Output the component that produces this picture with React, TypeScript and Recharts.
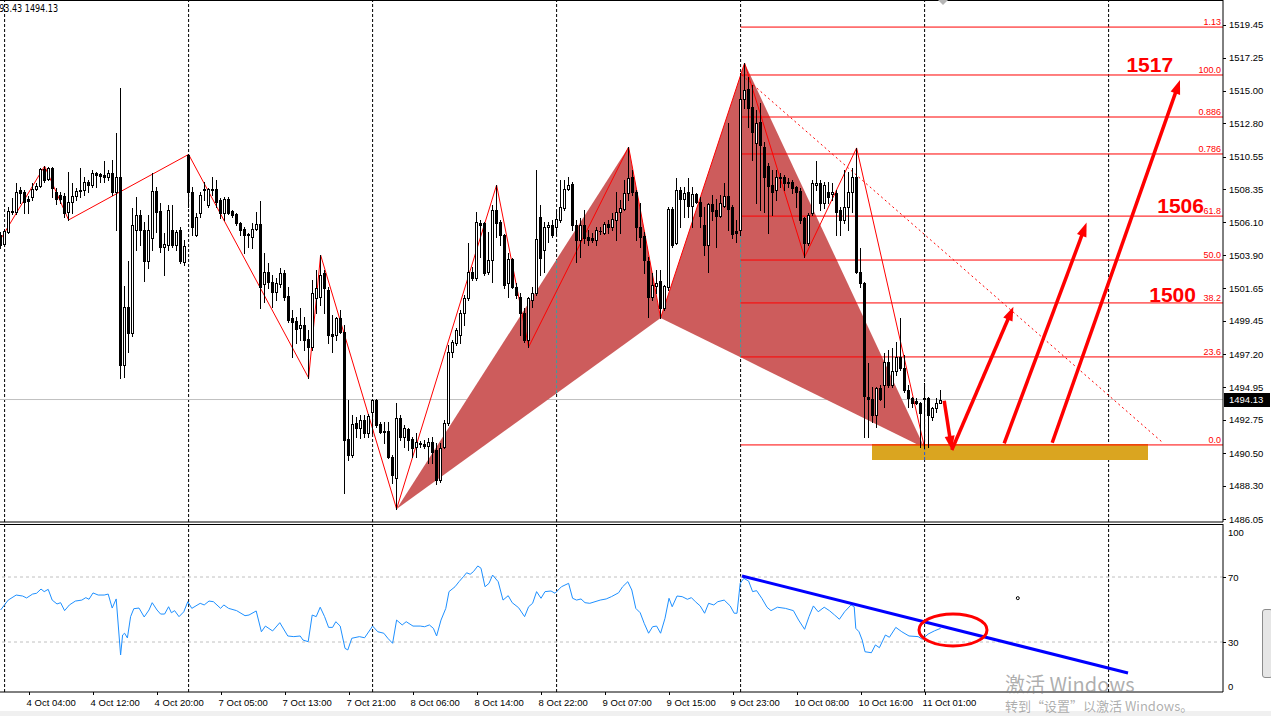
import React from 'react';
import {
  ComposedChart,
  Bar,
  Line,
  Area,
  XAxis,
  YAxis,
  ReferenceLine,
  ReferenceArea,
  ReferenceDot,
} from 'recharts';

const FONT = '"Liberation Sans", Arial, sans-serif';
const RED = '#ff0000';

// visible window of the two panels: bar index / price / RSI
const X_MIN = -0.15;
const X_MAX = 305.6;
const P_MIN = 1485.85;
const P_MAX = 1521.14;
const R_MIN = -0.77;
const R_MAX = 102.62;

// XAUUSD M30 candles, [open, high, low, close]
const ohlc: number[][] = [
  [1505.25, 1505.45, 1504.38, 1504.58], [1504.65, 1505.66, 1504.51, 1505.52], [1505.45, 1507.15, 1505.39, 1506.87],
  [1506.8, 1507.76, 1506.67, 1506.87], [1506.8, 1508.77, 1506.67, 1508.16], [1508.3, 1508.5, 1507.42, 1508.1],
  [1508.16, 1508.3, 1506.74, 1507.48], [1507.69, 1507.89, 1506.74, 1507.55], [1507.83, 1508.77, 1507.62, 1508.36],
  [1508.36, 1508.77, 1508.3, 1508.56], [1508.56, 1509.78, 1508.5, 1509.71], [1509.71, 1509.91, 1508.83, 1508.97],
  [1509.04, 1509.85, 1508.97, 1509.78], [1509.78, 1509.85, 1507.83, 1508.43], [1508.16, 1508.43, 1507.35, 1507.69],
  [1507.96, 1508.16, 1507.42, 1507.69], [1507.89, 1508.1, 1506.47, 1506.74], [1506.8, 1509.51, 1506.27, 1507.48],
  [1507.48, 1508.77, 1506.74, 1507.89], [1507.89, 1508.43, 1507.62, 1508.23], [1508.3, 1509.78, 1507.83, 1508.23],
  [1508.3, 1509.18, 1507.96, 1508.83], [1508.83, 1508.97, 1508.16, 1508.63], [1508.63, 1509.65, 1508.5, 1509.45],
  [1509.45, 1509.51, 1508.5, 1509.31], [1509.38, 1509.45, 1508.83, 1509.24], [1509.31, 1510.25, 1508.83, 1509.18],
  [1509.18, 1509.65, 1508.97, 1509.45], [1509.45, 1510.32, 1507.96, 1508.16], [1508.16, 1512.15, 1505.59, 1509.18],
  [1509.18, 1515.19, 1495.59, 1496.46], [1496.46, 1501.8, 1495.66, 1500.39], [1500.39, 1503.49, 1497.34, 1498.63],
  [1498.63, 1507.08, 1498.42, 1505.93], [1505.59, 1507.83, 1504.24, 1506.6], [1506.6, 1506.94, 1504.58, 1505.59],
  [1505.59, 1506.13, 1502.14, 1503.49], [1503.49, 1506.6, 1503.02, 1505.59], [1505.05, 1509.45, 1504.24, 1508.23],
  [1508.23, 1508.5, 1505.45, 1506.8], [1506.87, 1507.42, 1504.1, 1504.44], [1504.44, 1505.39, 1502.55, 1504.65],
  [1504.58, 1507.28, 1504.24, 1506.94], [1505.59, 1507.28, 1504.44, 1504.58], [1504.58, 1505.59, 1504.24, 1505.45],
  [1505.59, 1505.8, 1503.36, 1503.49], [1503.42, 1504.92, 1503.22, 1504.51], [1510.66, 1510.7, 1507.15, 1508.16],
  [1508.16, 1508.5, 1505.25, 1505.8], [1505.25, 1506.74, 1505.18, 1506.47], [1506.74, 1508.16, 1506.47, 1507.96],
  [1508.36, 1508.83, 1507.62, 1508.3], [1507.28, 1508.43, 1507.15, 1508.36], [1508.36, 1509.18, 1507.96, 1508.3],
  [1508.36, 1508.97, 1507.15, 1507.48], [1507.62, 1507.76, 1506.4, 1506.74], [1506.74, 1507.83, 1506.27, 1507.69],
  [1507.69, 1507.83, 1506.67, 1506.74], [1506.87, 1506.94, 1506.47, 1506.6], [1506.67, 1506.74, 1505.93, 1506.07],
  [1506.07, 1506.13, 1505.25, 1505.59], [1505.66, 1505.8, 1504.04, 1505.25], [1505.32, 1505.39, 1504.44, 1505.25],
  [1505.12, 1506.07, 1504.38, 1505.66], [1505.66, 1506.8, 1505.59, 1506.0], [1506.0, 1507.55, 1500.32, 1501.74],
  [1501.94, 1504.04, 1500.72, 1502.75], [1502.75, 1503.36, 1501.67, 1502.07], [1502.07, 1502.55, 1500.39, 1501.4],
  [1501.4, 1502.35, 1500.86, 1502.01], [1501.94, 1503.02, 1501.74, 1502.69], [1502.69, 1502.89, 1500.86, 1501.07],
  [1501.13, 1501.74, 1499.37, 1499.51], [1499.64, 1500.18, 1497.01, 1499.37], [1499.44, 1499.71, 1497.96, 1498.9],
  [1498.97, 1500.32, 1498.16, 1499.17], [1499.17, 1499.71, 1497.48, 1498.16], [1498.22, 1498.83, 1495.59, 1497.68],
  [1497.68, 1502.21, 1497.48, 1501.34], [1500.99, 1502.89, 1499.98, 1501.67], [1501.07, 1503.9, 1500.52, 1502.55],
  [1502.69, 1502.89, 1499.98, 1501.67], [1501.54, 1501.74, 1497.96, 1498.49], [1498.56, 1499.84, 1497.34, 1498.42],
  [1498.49, 1499.71, 1498.16, 1499.64], [1499.64, 1500.18, 1498.63, 1498.69], [1498.69, 1499.17, 1487.82, 1491.4],
  [1491.47, 1494.1, 1490.04, 1490.38], [1490.38, 1493.08, 1490.25, 1492.48], [1492.55, 1492.95, 1491.6, 1492.21],
  [1492.21, 1493.08, 1491.54, 1492.75], [1492.75, 1493.08, 1491.6, 1491.87], [1491.87, 1493.15, 1491.6, 1493.01],
  [1493.28, 1494.17, 1491.87, 1494.1], [1494.1, 1494.17, 1492.28, 1492.41], [1492.48, 1492.61, 1491.87, 1491.93],
  [1492.0, 1492.61, 1491.2, 1491.93], [1492.0, 1492.61, 1490.18, 1490.25], [1490.25, 1490.38, 1488.49, 1489.03],
  [1488.83, 1493.9, 1486.73, 1492.88], [1492.88, 1493.08, 1491.4, 1491.6], [1491.6, 1492.41, 1490.92, 1492.21],
  [1492.14, 1492.21, 1490.72, 1491.4], [1491.47, 1491.6, 1490.25, 1490.86], [1490.92, 1491.87, 1490.25, 1491.27],
  [1491.2, 1491.33, 1490.92, 1491.13], [1491.13, 1491.4, 1490.86, 1490.99], [1490.99, 1491.54, 1489.84, 1491.27],
  [1491.27, 1491.6, 1489.84, 1490.58], [1490.72, 1491.2, 1488.42, 1488.69], [1488.69, 1491.2, 1488.56, 1490.86],
  [1490.92, 1492.75, 1490.86, 1492.55], [1492.55, 1497.82, 1492.41, 1497.34], [1497.34, 1498.16, 1497.01, 1498.02],
  [1497.96, 1498.97, 1497.82, 1498.83], [1498.49, 1500.18, 1497.96, 1499.98], [1499.98, 1501.2, 1499.17, 1500.99],
  [1500.99, 1504.72, 1500.86, 1502.75], [1502.75, 1503.09, 1502.21, 1502.35], [1502.35, 1506.8, 1502.21, 1506.13],
  [1506.07, 1506.27, 1503.76, 1505.93], [1506.07, 1506.13, 1502.55, 1502.69], [1502.75, 1505.45, 1502.62, 1503.56],
  [1503.56, 1507.28, 1502.07, 1506.94], [1506.94, 1508.63, 1505.12, 1506.07], [1506.13, 1506.27, 1504.58, 1505.25],
  [1505.25, 1505.32, 1501.67, 1501.87], [1502.01, 1504.04, 1501.07, 1503.63], [1503.63, 1503.7, 1501.67, 1501.74],
  [1501.74, 1502.01, 1500.99, 1501.2], [1501.07, 1501.34, 1498.49, 1499.98], [1499.98, 1500.32, 1498.02, 1498.16],
  [1498.16, 1501.07, 1497.68, 1500.99], [1500.86, 1501.74, 1500.39, 1501.34], [1501.34, 1509.65, 1501.2, 1504.99],
  [1506.47, 1507.28, 1502.55, 1503.7], [1504.24, 1506.13, 1502.75, 1505.8], [1505.8, 1506.13, 1504.78, 1505.93],
  [1505.93, 1506.27, 1505.12, 1505.25], [1505.8, 1506.94, 1505.25, 1506.33], [1506.27, 1508.97, 1506.13, 1507.15],
  [1507.08, 1508.97, 1506.94, 1508.36], [1508.36, 1509.18, 1508.3, 1508.63], [1508.7, 1508.83, 1505.59, 1505.93],
  [1505.93, 1506.27, 1503.42, 1504.92], [1504.92, 1506.4, 1503.76, 1505.93], [1505.93, 1506.94, 1504.72, 1505.05],
  [1505.12, 1505.59, 1504.58, 1504.92], [1505.05, 1505.39, 1504.78, 1504.92], [1504.92, 1505.8, 1504.58, 1505.59],
  [1505.52, 1505.8, 1505.32, 1505.55], [1505.39, 1506.13, 1505.32, 1506.0], [1506.0, 1506.27, 1505.39, 1505.8],
  [1505.8, 1506.74, 1505.59, 1506.33], [1506.27, 1508.16, 1504.92, 1506.8], [1506.8, 1507.62, 1505.39, 1507.08],
  [1507.01, 1508.97, 1506.94, 1508.1], [1508.1, 1511.2, 1507.62, 1509.11], [1509.18, 1509.65, 1507.96, 1508.16],
  [1508.16, 1508.3, 1504.92, 1505.8], [1505.8, 1507.42, 1504.44, 1505.12], [1505.18, 1505.45, 1502.69, 1503.56],
  [1503.49, 1503.76, 1499.71, 1501.07], [1501.07, 1502.69, 1500.86, 1501.87], [1501.8, 1502.89, 1501.34, 1502.01],
  [1502.14, 1502.89, 1499.64, 1500.32], [1500.32, 1501.87, 1500.18, 1501.8], [1501.74, 1507.15, 1501.54, 1507.01],
  [1507.01, 1507.15, 1504.44, 1504.58], [1504.72, 1509.11, 1504.65, 1508.3], [1508.3, 1508.5, 1505.8, 1507.69],
  [1507.69, 1508.5, 1506.47, 1508.1], [1508.16, 1509.11, 1506.47, 1507.21], [1507.21, 1508.5, 1505.8, 1508.03],
  [1508.03, 1508.1, 1507.42, 1507.48], [1507.48, 1507.83, 1505.8, 1506.53], [1505.93, 1507.15, 1503.9, 1504.58],
  [1504.58, 1507.42, 1502.75, 1507.35], [1507.35, 1507.96, 1506.27, 1506.87], [1506.94, 1507.69, 1504.44, 1506.53],
  [1506.53, 1507.96, 1506.47, 1507.42], [1507.21, 1508.77, 1507.15, 1507.89], [1507.89, 1512.82, 1505.59, 1507.01],
  [1507.15, 1507.28, 1505.05, 1505.32], [1505.52, 1506.27, 1504.78, 1505.39], [1505.59, 1516.21, 1505.25, 1514.45],
  [1514.45, 1516.88, 1513.84, 1515.06], [1515.12, 1515.93, 1512.55, 1513.84], [1513.9, 1515.4, 1510.32, 1512.22],
  [1511.47, 1513.7, 1507.42, 1512.82], [1512.89, 1514.18, 1506.94, 1511.34], [1511.2, 1511.54, 1506.8, 1509.18],
  [1509.91, 1510.12, 1505.39, 1508.56], [1508.63, 1509.65, 1506.6, 1508.16], [1508.3, 1509.65, 1507.62, 1509.18],
  [1509.18, 1509.45, 1508.5, 1509.11], [1509.18, 1509.31, 1508.3, 1508.77], [1508.83, 1509.11, 1508.5, 1508.77],
  [1508.83, 1508.97, 1508.1, 1508.43], [1508.5, 1508.56, 1507.15, 1508.16], [1508.23, 1508.43, 1506.07, 1506.27],
  [1506.4, 1506.47, 1503.76, 1504.72], [1504.72, 1506.74, 1504.58, 1506.6], [1506.74, 1508.97, 1506.6, 1508.77],
  [1508.63, 1510.25, 1508.3, 1508.77], [1508.77, 1508.97, 1506.94, 1507.42], [1507.42, 1508.83, 1507.08, 1508.63],
  [1508.16, 1508.83, 1507.42, 1507.83], [1508.03, 1508.77, 1507.62, 1508.16], [1508.1, 1508.3, 1505.25, 1506.8],
  [1506.94, 1507.15, 1505.25, 1506.27], [1506.27, 1509.65, 1506.07, 1507.15], [1507.15, 1509.51, 1505.59, 1508.16],
  [1508.16, 1509.78, 1506.8, 1509.18], [1509.18, 1511.14, 1502.69, 1502.75], [1502.75, 1504.38, 1501.74, 1502.01],
  [1502.01, 1502.07, 1491.6, 1494.37], [1494.3, 1496.6, 1491.6, 1494.17], [1494.17, 1494.98, 1492.61, 1493.08],
  [1493.08, 1494.98, 1492.28, 1494.92], [1494.92, 1495.11, 1494.1, 1494.17], [1495.11, 1497.28, 1493.62, 1496.67],
  [1496.67, 1497.48, 1494.98, 1495.11], [1495.11, 1497.61, 1494.98, 1496.06], [1496.06, 1498.02, 1495.79, 1497.01],
  [1497.01, 1499.64, 1496.13, 1496.26], [1496.26, 1497.14, 1494.64, 1494.78], [1494.78, 1495.11, 1493.62, 1494.24],
  [1494.24, 1494.3, 1493.62, 1493.9], [1494.03, 1494.24, 1493.83, 1493.9], [1493.9, 1493.96, 1490.92, 1493.22],
  [1494.17, 1495.25, 1490.86, 1494.24], [1494.24, 1494.3, 1490.92, 1493.08], [1492.95, 1493.62, 1492.75, 1493.56],
  [1493.56, 1494.24, 1493.28, 1493.9], [1493.9, 1494.78, 1493.9, 1494.13],
];

const lastPrice = 1494.13;
const headerText = '1493.43 1494.13';

const priceTicks = [
  1519.45, 1517.25, 1515.0, 1512.8, 1510.55, 1508.35, 1506.1, 1503.9,
  1501.65, 1499.45, 1497.2, 1494.95, 1492.75, 1490.5, 1488.3, 1486.05,
];

const timeTicks = [7, 23, 39, 55, 71, 87, 103, 119, 135, 151, 167, 183, 199, 215, 231];
const timeLabels = [
  '4 Oct 04:00', '4 Oct 12:00', '4 Oct 20:00', '7 Oct 05:00', '7 Oct 13:00',
  '7 Oct 21:00', '8 Oct 06:00', '8 Oct 14:00', '8 Oct 22:00', '9 Oct 07:00',
  '9 Oct 15:00', '9 Oct 23:00', '10 Oct 08:00', '10 Oct 16:00', '11 Oct 01:00',
];
const gridBars = [1, 47, 93, 139, 185, 231, 277];

// fibonacci levels drawn from the C bar to the right edge
const fibStart = 185;
const fibLevels = [1519.31, 1516.07, 1513.23, 1510.73, 1506.53, 1503.56, 1500.66, 1497.01, 1491.06];
const fibLabels = ['1.13', '100.0', '0.886', '0.786', '61.8', '50.0', '38.2', '23.6', '0.0'];

// zigzag pivots [bar, price]
const zigzag: number[][] = [
  [-2, 1504.07], [11, 1509.91], [17, 1506.27], [47, 1510.7], [77, 1495.59], [80, 1503.9],
  [99, 1486.73], [124, 1508.63], [132, 1497.68], [157, 1511.2], [165, 1499.64],
  [186, 1516.88], [201, 1503.76], [214, 1511.14], [231, 1490.86],
];

// harmonic pattern X A B C D
const patternBars = [99, 157, 165, 186, 231];
const patternPrices = [1486.73, 1511.2, 1499.64, 1516.88, 1490.86];

const dottedLine = [[185.3, 1516.07], [290.6, 1491.2]];
const zoneBars = [217.85, 286.85];
const zonePrices = [1490.04, 1491.13];

// hand drawn arrows [bar1, price1, bar2, price2]
const arrows: number[][] = [
  [235.9, 1494.05, 237.8, 1490.72],
  [237.8, 1490.72, 253.2, 1500.41],
  [250.9, 1491.17, 271.5, 1506.09],
  [262.9, 1491.21, 294.85, 1515.73],
];
const targets: [string, number, number][] = [
  ['1517', 287.3, 1516.27],
  ['1506', 295.0, 1506.74],
  ['1500', 293.0, 1500.74],
];

// RSI line vertices [bar, value]
const rsi: number[][] = [
  [0, 49.7], [1.9, 55.8], [3.9, 58.9], [5.5, 58.3], [6.5, 57.1], [8, 59.5], [9, 60], [10.1, 62.6], [10.9, 61],
  [11.9, 62.4], [12.9, 55.8], [14.1, 53.4], [15, 54.2], [16, 49.3], [17.2, 52.8], [18.7, 55.2], [20.3, 55.8],
  [21.3, 57.3], [22.1, 56.3], [23.1, 60.2], [24.4, 58.9], [25.9, 58.9], [26.9, 59.5], [27.9, 50.9], [28.9, 56.5],
  [30, 22], [30.5, 34.3], [31, 35.4], [31.7, 32.5], [32.5, 45.6], [33.3, 50.5], [34.6, 50.9], [35.9, 45.4],
  [37.1, 49.7], [37.9, 54.2], [39.1, 49.7], [40, 47.2], [41, 47.2], [42, 51.7], [42.7, 48], [43.5, 49.3],
  [44.6, 45.6], [45.8, 48.6], [46.8, 54.8], [47.8, 50.7], [49.9, 53.8], [50.9, 52.8], [52.1, 55.2], [53.2, 54.8],
  [55, 50.7], [55.8, 52.8], [57, 50.7], [59, 49.3], [61.1, 46.2], [62.1, 46.6], [63.9, 49.1], [65.2, 36.3],
  [66.2, 39.8], [68, 36.8], [69.8, 41.9], [71.8, 33.7], [73.3, 33.3], [74.9, 33.7], [75.6, 31.2], [76.9, 30.2],
  [77.9, 46.6], [78.9, 45.6], [79.9, 51.4], [81, 45.6], [82, 39], [83, 39], [83.8, 42.5], [84.9, 39.8],
  [86.1, 26.1], [86.8, 25.1], [87.8, 32.3], [89.7, 33.3], [91, 32.6], [93, 39.8], [94.3, 36.3], [95.8, 35.4],
  [96.8, 32.3], [98, 29.2], [99, 43.5], [100.4, 40.5], [101.4, 42.5], [103.1, 39.8], [104.9, 39.8], [106, 39.4],
  [107.2, 40.5], [108.2, 38.4], [109, 33.7], [110.1, 43.5], [111.3, 50.7], [112.1, 61], [113.6, 64], [114.6, 67.1],
  [115.7, 70.2], [116.5, 72.6], [117.4, 71.7], [118.2, 73.3], [119.3, 76.8], [120.1, 75.4], [121.1, 64],
  [122.1, 66.1], [123, 71.2], [124.4, 67.1], [125.6, 55.8], [126.9, 58.5], [127.9, 54.2], [129.5, 51.1],
  [131, 45.6], [132, 51.7], [133, 53.8], [134, 61], [135.1, 56.9], [136.1, 61], [137.6, 61.4], [138.6, 60],
  [140.2, 64], [142, 66.1], [143, 56.9], [144, 55.8], [145.1, 56.5], [146.1, 54.2], [147.3, 53.8], [148.6, 54.8],
  [149.9, 55.8], [151.4, 56.5], [152.7, 57.9], [154.5, 60.3], [155.5, 64], [156.8, 67.1], [157.8, 62],
  [158.8, 50.7], [159.9, 48], [160.9, 41.5], [162, 35.4], [163, 39.4], [164, 39.8], [165, 35.4], [166.1, 44.6],
  [167.1, 56.9], [167.9, 51.7], [169.1, 58.3], [170.4, 57.9], [171.7, 56.3], [172.7, 57.3], [173.7, 54.8],
  [174.9, 52.2], [176, 47.7], [177, 53.8], [178.3, 52.8], [179.3, 54.8], [180.9, 55.8], [182.4, 52.2],
  [183.4, 47.7], [184.1, 47.7], [184.9, 66.1], [185.8, 69.2], [187, 67.5], [188, 61], [189, 61.6], [190.3, 56.9],
  [191.6, 51.4], [192.6, 49.3], [194.2, 51.4], [196.2, 50.7], [198.2, 49.3], [199.5, 43.5], [201, 37.8],
  [202.1, 45.6], [203.2, 52.2], [204.4, 48.6], [205.9, 51.4], [207.2, 49.3], [208.5, 46.6], [209.7, 44],
  [211, 48.6], [212.6, 52.8], [213.4, 51.7], [213.8, 38.4], [214.6, 36.3], [215.4, 31.2], [216.1, 24],
  [217.7, 23.4], [218.7, 28.2], [219.7, 26.5], [221.2, 34.3], [222.2, 32.9], [223.8, 39], [225.3, 36.3],
  [227.1, 33.7], [229.4, 33.3], [230.4, 31.7], [231.9, 34.9], [233.5, 36.9], [235, 38.4],
];
const rsiTicks = [0, 30, 70, 100];
const rsiTrend = [[185.35, 70.6], [281.85, 10.9]];
const rsiRing = { bar: 238.1, value: 37.4, halfBars: 8.5, halfValue: 9.8 };

const candleData = ohlc.map(([o, h, l, c], i) => ({ x: i, range: [l, h], o, h, l, c }));
const zigData = zigzag.map(([x, p]) => ({ x, p }));
const rsiData = rsi.map(([x, v]) => ({ x, v }));

const pts = patternBars.map((b, i) => [b, patternPrices[i]]);
const [pX, pA, pB, pC, pD] = pts;
const along = (a: number[], b: number[], x: number) => a[1] + ((b[1] - a[1]) * (x - a[0])) / (b[0] - a[0]);
const tri1 = [
  { x: pX[0], band: [pX[1], pX[1]] },
  { x: pA[0], band: [along(pX, pB, pA[0]), pA[1]] },
  { x: pB[0], band: [pB[1], pB[1]] },
];
const tri2 = [
  { x: pB[0], band: [pB[1], pB[1]] },
  { x: pC[0], band: [along(pB, pD, pC[0]), pC[1]] },
  { x: pD[0], band: [pD[1], pD[1]] },
];
// dashed grid seen through the filled objects (MT4 draws it inverted there)
const xorSegments = [
  { x: 139, y1: along(pX, pB, 139), y2: along(pX, pA, 139), color: '#32a3a3' },
  { x: 185, y1: along(pB, pD, 185), y2: along(pB, pC, 185), color: '#32a3a3' },
  { x: 231, y1: zonePrices[0], y2: zonePrices[1], color: '#255adf' },
];

function Candle(props: any) {
  const { x, y, width, height } = props;
  const d = props.payload || props;
  const top = Math.min(y, y + height);
  const bot = Math.max(y, y + height);
  const toY = (v: number) => (d.h === d.l ? top : top + ((d.h - v) / (d.h - d.l)) * (bot - top));
  const cx = Math.round(x + width / 2);
  const yo = toY(d.o);
  const yc = toY(d.c);
  const bTop = Math.round(Math.min(yo, yc));
  const bBot = Math.round(Math.max(yo, yc));
  const up = d.c >= d.o;
  return (
    <g>
      <line x1={cx + 0.5} x2={cx + 0.5} y1={Math.round(top)} y2={Math.round(bot) + 1} stroke="#000" />
      {bBot - bTop < 1 ? (
        <line x1={cx - 1} x2={cx + 2} y1={bTop + 0.5} y2={bTop + 0.5} stroke="#000" />
      ) : (
        <rect x={cx - 0.5} y={bTop + 0.5} width={2} height={bBot - bTop} fill={up ? '#fff' : '#000'} stroke="#000" />
      )}
    </g>
  );
}

function Arrow(props: any) {
  const { x1, y1, x2, y2 } = props;
  const dx = x2 - x1;
  const dy = y2 - y1;
  const len = Math.hypot(dx, dy) || 1;
  const ux = dx / len;
  const uy = dy / len;
  const hl = 14;
  const hw = 5;
  const bx = x2 - ux * hl;
  const by = y2 - uy * hl;
  return (
    <g>
      <line x1={x1} y1={y1} x2={bx + ux * 3} y2={by + uy * 3} stroke={RED} strokeWidth={3.5} />
      <polygon points={`${x2},${y2} ${bx - uy * hw},${by + ux * hw} ${bx + uy * hw},${by - ux * hw}`} fill={RED} />
    </g>
  );
}

function PriceTick(props: any) {
  const { x, y, payload } = props;
  const ty = Math.round(y) + 0.5;
  return (
    <g>
      <line x1={x} x2={x + 3} y1={ty} y2={ty} stroke="#000" />
      <text x={x + 6} y={y + 3.5} fontSize={9.5} fontFamily={FONT} fill="#000">
        {Number(payload.value).toFixed(2)}
      </text>
    </g>
  );
}

function RsiTick(props: any) {
  const { x, y, payload } = props;
  const v = payload.value;
  const shift = v === 100 ? 4 : v === 0 ? -4 : 0;
  const ty = Math.round(y) + 0.5;
  return (
    <g>
      {v === 70 || v === 30 ? <line x1={x} x2={x + 3} y1={ty} y2={ty} stroke="#000" /> : null}
      <text x={x + 5} y={y + shift + 3.5} fontSize={9.5} fontFamily={FONT} fill="#000">
        {v}
      </text>
    </g>
  );
}

function TimeTick(props: any) {
  const { x, y, payload } = props;
  const label = timeLabels[timeTicks.indexOf(payload.value)];
  const tx = Math.round(x) + 0.5;
  return (
    <g>
      <line x1={tx} x2={tx} y1={y} y2={y + 3} stroke="#000" />
      <text x={x - 2} y={y + 14} fontSize={9.5} fontFamily={FONT} fill="#000">
        {label}
      </text>
    </g>
  );
}

function MainPanel() {
  return (
    <ComposedChart width={1271} height={523} data={candleData} margin={{ top: 0, right: 0, bottom: 0, left: 0 }}>
      <XAxis type="number" dataKey="x" domain={[X_MIN, X_MAX]} allowDataOverflow height={1} tick={false} tickLine={false} axisLine={{ stroke: '#000' }} />
      <YAxis
        orientation="right"
        type="number"
        domain={[P_MIN, P_MAX]}
        allowDataOverflow
        ticks={priceTicks}
        interval={0}
        tick={<PriceTick />}
        tickSize={0}
        tickMargin={0}
        tickLine={false}
        width={48}
        axisLine={{ stroke: '#000' }}
      />
      {gridBars.map((b) => (
        <ReferenceLine key={`g${b}`} x={b} stroke="#000" strokeDasharray="3 2" zIndex={10} />
      ))}
      <ReferenceLine y={lastPrice} stroke="#c0c0c0" zIndex={20} />
      <Area data={tri1} dataKey="band" type="linear" stroke="none" fill="#cd5c5c" fillOpacity={1} dot={false} activeDot={false} isAnimationActive={false} zIndex={30} />
      <Area data={tri2} dataKey="band" type="linear" stroke="none" fill="#cd5c5c" fillOpacity={1} dot={false} activeDot={false} isAnimationActive={false} zIndex={30} />
      <ReferenceArea x1={zoneBars[0]} x2={zoneBars[1]} y1={zonePrices[0]} y2={zonePrices[1]} fill="#daa520" fillOpacity={1} stroke="none" zIndex={35} />
      {xorSegments.map((s) => (
        <ReferenceLine
          key={`xs${s.x}`}
          segment={[{ x: s.x, y: s.y1 }, { x: s.x, y: s.y2 }]}
          stroke={s.color}
          strokeDasharray="3 2"
          ifOverflow="hidden"
          zIndex={40}
        />
      ))}
      {fibLevels.map((lvl) => (
        <ReferenceLine
          key={`f${lvl}`}
          segment={[{ x: fibStart, y: lvl }, { x: X_MAX, y: lvl }]}
          stroke={RED}
          ifOverflow="hidden"
          zIndex={60}
        />
      ))}
      {fibLevels.map((lvl, i) => (
        <ReferenceDot
          key={`fl${lvl}`}
          x={305.1}
          y={lvl}
          ifOverflow="visible"
          zIndex={60}
          shape={(p: any) => (
            <text x={p.cx} y={p.cy - 2} textAnchor="end" fontSize={9} fontFamily={FONT} fill={RED}>
              {fibLabels[i]}
            </text>
          )}
        />
      ))}
      <Line data={zigData} dataKey="p" type="linear" stroke={RED} strokeWidth={1} dot={false} activeDot={false} isAnimationActive={false} zIndex={70} />
      <ReferenceLine
        segment={[{ x: dottedLine[0][0], y: dottedLine[0][1] }, { x: dottedLine[1][0], y: dottedLine[1][1] }]}
        stroke={RED}
        strokeDasharray="2 3"
        ifOverflow="hidden"
        zIndex={80}
      />
      <Bar dataKey="range" barSize={3} shape={<Candle />} isAnimationActive={false} zIndex={90} />
      {arrows.map((a, i) => (
        <ReferenceLine
          key={`a${i}`}
          segment={[{ x: a[0], y: a[1] }, { x: a[2], y: a[3] }]}
          ifOverflow="visible"
          zIndex={100}
          shape={(p: any) => <Arrow {...p} />}
        />
      ))}
      {targets.map(([t, b, p]) => (
        <ReferenceDot
          key={`t${t}`}
          x={b}
          y={p}
          ifOverflow="visible"
          zIndex={110}
          shape={(q: any) => (
            <text x={q.cx} y={q.cy} textAnchor="middle" fontSize={21} fontWeight="bold" fontFamily={FONT} fill={RED}>
              {t}
            </text>
          )}
        />
      ))}
      <ReferenceDot
        x={X_MAX}
        y={lastPrice}
        ifOverflow="visible"
        zIndex={120}
        shape={(q: any) => (
          <g>
            <rect x={q.cx + 1} y={Math.round(q.cy) - 7} width={46} height={14} fill="#000" />
            <text x={q.cx + 6} y={q.cy + 3.5} fontSize={9.5} fontFamily={FONT} fill="#fff">
              {lastPrice.toFixed(2)}
            </text>
          </g>
        )}
      />
    </ComposedChart>
  );
}

function RsiPanel() {
  return (
    <ComposedChart width={1271} height={193} margin={{ top: 1, right: 0, bottom: 0, left: 0 }}>
      <XAxis
        type="number"
        dataKey="x"
        domain={[X_MIN, X_MAX]}
        allowDataOverflow
        ticks={timeTicks}
        interval={0}
        tick={<TimeTick />}
        tickSize={0}
        tickMargin={0}
        tickLine={false}
        height={24}
        axisLine={{ stroke: '#000' }}
      />
      <YAxis
        orientation="right"
        type="number"
        domain={[R_MIN, R_MAX]}
        allowDataOverflow
        ticks={rsiTicks}
        interval={0}
        tick={<RsiTick />}
        tickSize={0}
        tickMargin={0}
        tickLine={false}
        width={48}
        axisLine={{ stroke: '#000' }}
      />
      {gridBars.map((b) => (
        <ReferenceLine key={`rg${b}`} x={b} stroke="#000" strokeDasharray="3 2" zIndex={10} />
      ))}
      <ReferenceLine y={70} stroke="#c0c0c0" strokeDasharray="3 3" zIndex={10} />
      <ReferenceLine y={30} stroke="#c0c0c0" strokeDasharray="3 3" zIndex={10} />
      <Line data={rsiData} dataKey="v" type="linear" stroke="#1e90ff" strokeWidth={1} dot={false} activeDot={false} isAnimationActive={false} zIndex={20} />
      <ReferenceLine
        segment={[{ x: rsiTrend[0][0], y: rsiTrend[0][1] }, { x: rsiTrend[1][0], y: rsiTrend[1][1] }]}
        stroke="#0000ff"
        strokeWidth={3}
        ifOverflow="hidden"
        zIndex={30}
      />
      <ReferenceArea
        x1={rsiRing.bar - rsiRing.halfBars}
        x2={rsiRing.bar + rsiRing.halfBars}
        y1={rsiRing.value - rsiRing.halfValue}
        y2={rsiRing.value + rsiRing.halfValue}
        ifOverflow="visible"
        zIndex={40}
        shape={(p: any) => (
          <ellipse cx={p.x + p.width / 2} cy={p.y + p.height / 2} rx={p.width / 2} ry={Math.abs(p.height) / 2} fill="none" stroke={RED} strokeWidth={3} />
        )}
      />
      <ReferenceDot x={254.3} y={57} r={1.5} fill="#fff" stroke="#000" zIndex={40} />
    </ComposedChart>
  );
}

export default function App() {
  return (
    <div style={{ position: 'absolute', left: 0, top: 0, width: 1271, height: 716, background: '#fff', overflow: 'hidden', fontFamily: FONT }}>
      <div style={{ position: 'absolute', left: 0, top: 0 }}>
        <MainPanel />
      </div>
      <div style={{ position: 'absolute', left: 0, top: 523 }}>
        <RsiPanel />
      </div>
      <div style={{ position: 'absolute', left: 0, top: 0, width: 1223, height: 1, background: '#000' }} />
      <div style={{ position: 'absolute', left: 0, top: 524, width: 1223, height: 1, background: '#000' }} />
      <svg style={{ position: 'absolute', left: 0, top: 0 }} width={70} height={16}>
        <text x={-11} y={12} textLength={69} lengthAdjust="spacingAndGlyphs" fontSize={11} fontFamily='"DejaVu Sans", sans-serif' fill="#000">
          {headerText}
        </text>
      </svg>
      <svg style={{ position: 'absolute', left: 938, top: 0 }} width={12} height={7}>
        <polygon points="0,0 10,0 5,5" fill="#b4b4b4" />
      </svg>
      <div style={{ position: 'absolute', left: 1262, top: 609, width: 9, height: 67, background: '#e6e6e6', border: '1px solid #8c8c8c', borderRadius: 3 }} />
      <div style={{ position: 'absolute', left: 0, top: 711, width: 1271, height: 5, background: '#f0f0f0' }} />
      <div style={{ position: 'absolute', left: 1005, top: 674, fontSize: 20, lineHeight: '20px', color: 'rgba(120,120,120,0.6)', fontFamily: '"Noto Sans CJK SC", sans-serif', whiteSpace: 'nowrap' }}>
        激活 Windows
      </div>
      <div style={{ position: 'absolute', left: 1005, top: 699, fontSize: 13, lineHeight: '14px', color: 'rgba(120,120,120,0.6)', fontFamily: '"Noto Sans CJK SC", sans-serif', whiteSpace: 'nowrap' }}>
        转到“设置”以激活 Windows。
      </div>
    </div>
  );
}
